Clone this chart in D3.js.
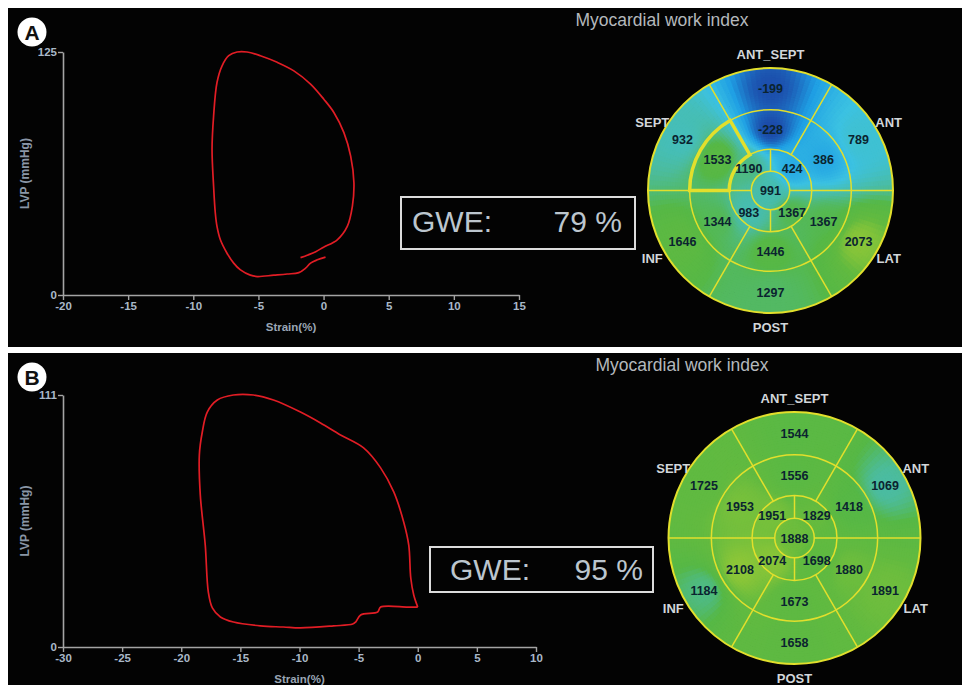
<!DOCTYPE html>
<html>
<head>
<meta charset="utf-8">
<script src="https://cdn.jsdelivr.net/npm/d3@7"></script>
<style>
body { margin: 0; background: #fff; }
svg { display: block; }
text { font-family: "Liberation Sans", Arial, sans-serif; }
</style>
</head>
<body>
<script>
// pressure-strain loops
var xTicksA = [-20, -15, -10, -5, 0, 5, 10, 15];
var yTicksA = [0, 125];
var strainA = [0.15, -0.48, -1.0, -1.38, -1.9, -2.79, -3.82, -5.1, -5.62, -6.38, -6.9, -7.41, -7.92, -8.18, -8.31, -8.44, -8.56, -8.44, -8.18, -7.79, -7.28, -6.64, -5.87, -4.85, -3.56, -2.28, -1.0, 0.02, 0.79, 1.56, 2.08, 2.33, 2.21, 1.82, 1.05, 0.0, -0.6, -1.2, -1.77];
var lvpA = [19.5, 18.1, 16.4, 13.8, 11.5, 10.8, 10.2, 9.5, 10.2, 12.9, 16.4, 21.5, 28.4, 35.3, 42.2, 55.9, 74.9, 92.1, 109.3, 117.9, 123.1, 125, 125, 123.1, 119.7, 115.3, 108.5, 100.7, 93.9, 83.5, 71.4, 57.7, 45.6, 35.3, 28.4, 24.6, 22.3, 20.6, 19.2];

var xTicksB = [-30, -25, -20, -15, -10, -5, 0, 5, 10];
var yTicksB = [0, 111];
var strainB = [0.0, -0.85, -3.14, -3.39, -4.83, -5.25, -5.5, -7.12, -9.92, -11.36, -13.31, -15.59, -16.69, -17.37, -17.71, -17.97, -18.39, -18.47, -18.22, -17.8, -16.95, -15.59, -13.9, -12.2, -9.92, -8.22, -6.53, -4.58, -3.14, -2.03, -1.19, -0.76, -0.59, -0.34, 0.0];
var lvpB = [17.6, 17.6, 17.6, 15.4, 14.1, 11.0, 10.1, 9.3, 8.4, 8.8, 9.3, 11.0, 13.2, 17.2, 24.2, 44.9, 67.0, 84.6, 94.7, 103.5, 108.8, 111, 111, 108.8, 103.5, 98.7, 93.4, 87.7, 78.9, 68.3, 55.1, 44.9, 30.4, 22.9, 17.6];

// bullseye, walls clockwise from the top
var wallNames = ["ANT_SEPT", "ANT", "LAT", "POST", "INF", "SEPT"];
var basalA = [-199, 789, 2073, 1297, 1646, 932];
var midA = [-228, 386, 1367, 1446, 1344, 1533];
var apicalA = [424, 1367, 983, 1190]; // clockwise from upper right
var apexA = 991;
var basalB = [1544, 1069, 1891, 1658, 1184, 1725];
var midB = [1556, 1418, 1880, 1673, 2108, 1953];
var apicalB = [1829, 1698, 2074, 1951];
var apexB = 1888;
var gweValues = [79, 95];

var W = 962, H = 689;
var rad = Math.PI / 180;
var ringF = [0.157, 0.337, 0.66, 1]; // apex, apical, mid, basal outer radius (fraction of R)

var workColor = d3.scaleLinear()
  .domain([-250, 250, 700, 1100, 1400, 1800, 2100, 2400])
  .range(["#1c46a6", "#1f9fe4", "#3cc2e2", "#4cbc9c", "#56b846", "#62ba40", "#8cc638", "#d8e030"])
  .clamp(true);

var panels = [
  {letter: "A", top: 8, h: 339, xr: [63, 519], yr: [295, 52], xTicks: xTicksA, yTicks: yTicksA,
   strain: strainA, lvp: lvpA, gwe: gweValues[0],
   box: {x: 401, y: 197, w: 234, h: 52}, gx1: 412, gx2: 622, gy: 232, titleX: 662,
   bull: {cx: 770.5, cy: 190.5, r: 122.5}, seg: [basalA, midA, apicalA, apexA], highlight: 5},
  {letter: "B", top: 353, h: 332, xr: [63, 536], yr: [647, 395], xTicks: xTicksB, yTicks: yTicksB,
   strain: strainB, lvp: lvpB, gwe: gweValues[1],
   box: {x: 430, y: 547, w: 223, h: 45}, gx1: 450, gx2: 643, gy: 580, titleX: 682,
   bull: {cx: 794.5, cy: 538, r: 126}, seg: [basalB, midB, apicalB, apexB], highlight: null}
];

var svg = d3.select("body").append("svg").attr("width", W).attr("height", H);

panels.forEach(function(p) {
  svg.append("rect").attr("x", 8).attr("y", p.top).attr("width", W - 8).attr("height", p.h).attr("fill", "#030303");

  // letter badge
  svg.append("circle").attr("cx", 32).attr("cy", p.top + 24).attr("r", 14.5).attr("fill", "#fff");
  svg.append("text").attr("x", 32).attr("y", p.top + 31.5).attr("text-anchor", "middle")
    .style("font-size", "21px").style("font-weight", "bold").attr("fill", "#111").text(p.letter);

  // loop chart
  var x = d3.scaleLinear().domain(d3.extent(p.xTicks)).range(p.xr);
  var y = d3.scaleLinear().domain(d3.extent(p.yTicks)).range(p.yr);
  var plain = function(d) { return String(d); };

  var gx = svg.append("g").attr("transform", "translate(0," + p.yr[0] + ")")
    .call(d3.axisBottom(x).tickValues(p.xTicks).tickFormat(plain).tickSize(5).tickSizeOuter(0).tickPadding(2));
  var gy = svg.append("g").attr("transform", "translate(" + p.xr[0] + ",0)")
    .call(d3.axisLeft(y).tickValues(p.yTicks).tickFormat(plain).tickSize(5).tickSizeOuter(0).tickPadding(1));
  [gx, gy].forEach(function(g) {
    g.select(".domain").attr("stroke", "#a4a4a4").attr("stroke-width", 1.6);
    g.selectAll(".tick line").attr("stroke", "#a4a4a4").attr("stroke-width", 1.4);
    g.selectAll(".tick text").attr("fill", "#a9b8c8").style("font-size", "11.5px")
      .style("font-weight", "bold").style("font-family", "'Liberation Sans', Arial, sans-serif");
  });

  svg.append("text").attr("x", (p.xr[0] + p.xr[1]) / 2).attr("y", p.yr[0] + 36).attr("text-anchor", "middle")
    .style("font-size", "11.5px").style("font-weight", "bold").attr("fill", "#9aa6b4").text("Strain(%)");
  svg.append("text").attr("transform", "translate(29," + ((p.yr[0] + p.yr[1]) / 2) + ") rotate(-90)")
    .attr("text-anchor", "middle").style("font-size", "12px").style("font-weight", "bold")
    .attr("fill", "#8a96a6").text("LVP (mmHg)");

  var pts = p.strain.map(function(s, i) { return [s, p.lvp[i]]; });
  svg.append("path").datum(pts)
    .attr("d", d3.line().x(function(d) { return x(d[0]); }).y(function(d) { return y(d[1]); })
      .curve(d3.curveCatmullRom.alpha(0.5)))
    .attr("fill", "none").attr("stroke", "#e11d25").attr("stroke-width", 1.7);

  // GWE box
  svg.append("rect").attr("x", p.box.x).attr("y", p.box.y).attr("width", p.box.w).attr("height", p.box.h)
    .attr("fill", "none").attr("stroke", "#dcdcdc").attr("stroke-width", 2);
  svg.append("text").attr("x", p.gx1).attr("y", p.gy).style("font-size", "30px").attr("fill", "#bcc6ce").text("GWE:");
  svg.append("text").attr("x", p.gx2).attr("y", p.gy).attr("text-anchor", "end").style("font-size", "30px")
    .attr("fill", "#bcc6ce").text(p.gwe + " %");

  // title
  svg.append("text").attr("x", p.titleX).attr("y", p.top + 18).attr("text-anchor", "middle")
    .style("font-size", "17.5px").attr("fill", "#b4b8bc").text("Myocardial work index");

  drawBull(p);
});

function drawBull(p) {
  var b = p.bull, R = b.r;
  var g = svg.append("g").attr("transform", "translate(" + b.cx + "," + b.cy + ")");

  // segments with their label positions
  var segs = [];
  p.seg[0].forEach(function(v, i) {
    segs.push({v: v, a0: (i * 60 - 30) * rad, a1: (i * 60 + 30) * rad, rin: ringF[2] * R, rout: R, rl: 0.83 * R, al: i * 60 * rad});
  });
  p.seg[1].forEach(function(v, i) {
    segs.push({v: v, a0: (i * 60 - 30) * rad, a1: (i * 60 + 30) * rad, rin: ringF[1] * R, rout: ringF[2] * R, rl: 0.5 * R, al: i * 60 * rad});
  });
  p.seg[2].forEach(function(v, i) {
    segs.push({v: v, a0: i * 90 * rad, a1: (i + 1) * 90 * rad, rin: ringF[0] * R, rout: ringF[1] * R, rl: 0.25 * R, al: (45 + i * 90) * rad});
  });
  segs.push({v: p.seg[3], a0: 0, a1: 2 * Math.PI, rin: 0, rout: ringF[0] * R, rl: 0, al: 0});
  segs.forEach(function(s) { s.px = Math.sin(s.al) * s.rl; s.py = -Math.cos(s.al) * s.rl; });

  // smooth colour field, inverse distance weighted from segment centres
  var nR = 50, nA = 144, cells = [];
  for (var k = 0; k < nR; k++) {
    for (var m = 0; m < nA; m++) {
      var rm = (k + 0.5) / nR * R, am = (m + 0.5) / nA * 2 * Math.PI;
      var px = Math.sin(am) * rm, py = -Math.cos(am) * rm;
      var sw = 0, sv = 0;
      segs.forEach(function(s) {
        var d2 = (px - s.px) * (px - s.px) + (py - s.py) * (py - s.py) + 4;
        var w = 1 / Math.pow(d2, 1.5);
        sw += w; sv += w * s.v;
      });
      cells.push({k: k, m: m, v: sv / sw});
    }
  }
  // cells overlap their neighbours slightly so no seams show
  var cellArc = d3.arc()
    .innerRadius(function(d) { return d.k * R / nR; })
    .outerRadius(function(d) { return Math.min(R, (d.k + 1) * R / nR + 0.8); })
    .startAngle(function(d) { return d.m / nA * 2 * Math.PI; })
    .endAngle(function(d) { return (d.m + 1) / nA * 2 * Math.PI + 1.2 / Math.max(4, d.k * R / nR); });
  g.selectAll("path.cell").data(cells).join("path").attr("class", "cell")
    .attr("d", cellArc).attr("fill", function(d) { return workColor(d.v); });

  // borders
  var yel = "#e2df2c";
  [ringF[0], ringF[1], ringF[2]].forEach(function(f) {
    g.append("circle").attr("r", f * R).attr("fill", "none").attr("stroke", yel).attr("stroke-width", 1.5);
  });
  g.append("circle").attr("r", R).attr("fill", "none").attr("stroke", yel).attr("stroke-width", 2);
  [30, 90, 150, 210, 270, 330].forEach(function(a) {
    g.append("line").attr("x1", Math.sin(a * rad) * ringF[1] * R).attr("y1", -Math.cos(a * rad) * ringF[1] * R)
      .attr("x2", Math.sin(a * rad) * R).attr("y2", -Math.cos(a * rad) * R).attr("stroke", yel).attr("stroke-width", 1.5);
  });
  [0, 90, 180, 270].forEach(function(a) {
    g.append("line").attr("x1", Math.sin(a * rad) * ringF[0] * R).attr("y1", -Math.cos(a * rad) * ringF[0] * R)
      .attr("x2", Math.sin(a * rad) * ringF[1] * R).attr("y2", -Math.cos(a * rad) * ringF[1] * R).attr("stroke", yel).attr("stroke-width", 1.5);
  });
  if (p.highlight !== null) {
    var hs = segs[6 + p.highlight];
    g.append("path").attr("d", d3.arc()({innerRadius: hs.rin, outerRadius: hs.rout, startAngle: hs.a0, endAngle: hs.a1}))
      .attr("fill", "none").attr("stroke", yel).attr("stroke-width", 3.5);
  }

  // values
  g.selectAll("text.val").data(segs).join("text").attr("class", "val")
    .attr("x", function(d) { return d.px; }).attr("y", function(d) { return d.py + 4.5; })
    .attr("text-anchor", "middle").style("font-size", "12.5px").style("font-weight", "bold")
    .attr("fill", "#0b2430").text(function(d) { return d.v; });

  // wall names
  g.selectAll("text.wall").data(wallNames).join("text").attr("class", "wall")
    .attr("x", function(d, i) { return Math.sin(i * 60 * rad) * (R + 14); })
    .attr("y", function(d, i) { return -Math.cos(i * 60 * rad) * (R + 14) + 4.5; })
    .attr("text-anchor", "middle").style("font-size", "13px").style("font-weight", "bold")
    .attr("fill", "#d2d6da").text(function(d) { return d; });
}
</script>
</body>
</html>
